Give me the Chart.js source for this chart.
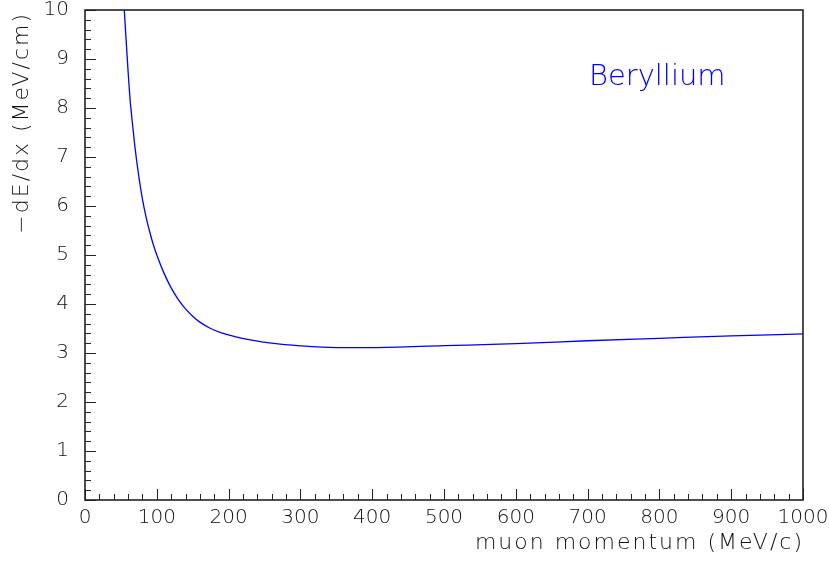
<!DOCTYPE html>
<html lang="en">
<head>
    <meta charset="UTF-8">
    <title>dE/dx Beryllium</title>
    <script src="https://cdn.jsdelivr.net/npm/chart.js"></script>
    <style>
        html, body { margin: 0; padding: 0; background: #fff; }
        .frame { width: 829px; height: 561px; position: relative; }
    </style>
</head>
<body>
    <div class="frame">
        <canvas id="dedxChart" width="829" height="561"></canvas>
    </div>
    <script>
        // values
        const momentum = [53, 55, 60, 63, 66, 70, 75, 80, 85, 90, 95, 100, 110, 120, 130, 140, 150, 160, 175, 190, 210, 230, 260, 300, 350, 400, 500, 600, 700, 800, 900, 1000];
        const dedx = [10.4, 9.93, 8.75, 8.14, 7.70, 7.15, 6.60, 6.14, 5.78, 5.48, 5.22, 5.0, 4.63, 4.33, 4.09, 3.90, 3.75, 3.63, 3.50, 3.41, 3.33, 3.27, 3.20, 3.145, 3.11, 3.11, 3.15, 3.19, 3.25, 3.30, 3.35, 3.39];
        const xTicks = [0, 100, 200, 300, 400, 500, 600, 700, 800, 900, 1000];
        const yTicks = [0, 1, 2, 3, 4, 5, 6, 7, 8, 9, 10];
        const xTitle = 'muon momentum (MeV/c)';
        const yTitle = '\u2212dE/dx (MeV/cm)';
        const material = 'Beryllium';

        const fontFamily = "'DejaVu Sans', sans-serif";

        // frame, inward major/minor ticks, axis titles and the label
        const framePlugin = {
            id: 'frame',
            afterDraw(chart) {
                const ctx = chart.ctx;
                const a = chart.chartArea;
                const xs = chart.scales.x, ys = chart.scales.y;
                ctx.save();
                ctx.strokeStyle = '#222';
                ctx.lineWidth = 1;
                ctx.beginPath();
                for (let v = 0; v <= 1000; v += 20) {
                    const px = Math.round(xs.getPixelForValue(v)) + 0.5;
                    const len = v % 100 === 0 ? 11 : 6;
                    ctx.moveTo(px, a.bottom);
                    ctx.lineTo(px, a.bottom - len);
                }
                for (let i = 0; i <= 50; i++) {
                    const py = Math.round(ys.getPixelForValue(i / 5)) + 0.5;
                    const len = i % 5 === 0 ? 11 : 6;
                    ctx.moveTo(a.left, py);
                    ctx.lineTo(a.left + len, py);
                }
                ctx.stroke();
                ctx.lineWidth = 1.6;
                ctx.strokeRect(a.left, a.top, a.right - a.left, a.bottom - a.top);

                // axis titles, wide spaced like the original
                ctx.fillStyle = '#111';
                ctx.font = "200 22px " + fontFamily;
                ctx.letterSpacing = '2px';
                ctx.textBaseline = 'middle';
                ctx.textAlign = 'right';
                ctx.fillText(xTitle, a.right + 1, 543);
                ctx.save();
                ctx.translate(22, a.top + 2);
                ctx.rotate(-Math.PI / 2);
                ctx.fillText(yTitle, 0, 0);
                ctx.restore();

                ctx.letterSpacing = '0px';
                ctx.fillStyle = '#0000ff';
                ctx.font = "200 29px " + fontFamily;
                ctx.textAlign = 'center';
                ctx.fillText(material, xs.getPixelForValue(797), ys.getPixelForValue(8.62));
                ctx.restore();
            }
        };

        const ctx = document.getElementById('dedxChart').getContext('2d');
        new Chart(ctx, {
            type: 'line',
            data: {
                datasets: [{
                    data: momentum.map((m, i) => ({ x: m, y: dedx[i] })),
                    borderColor: '#0000ff',
                    borderWidth: 1.3,
                    pointRadius: 0,
                    cubicInterpolationMode: 'monotone',
                    fill: false
                }]
            },
            options: {
                responsive: false,
                animation: false,
                layout: { padding: { top: 10, right: 26, left: 0, bottom: 0 } },
                plugins: {
                    legend: { display: false },
                    tooltip: { enabled: false }
                },
                scales: {
                    x: {
                        type: 'linear',
                        min: 0,
                        max: 1000,
                        afterBuildTicks: s => { s.ticks = xTicks.map(v => ({ value: v })); },
                        afterFit: s => { s.height = 61; s.paddingLeft = 0; s.paddingRight = 0; },
                        grid: { display: false, drawTicks: false },
                        border: { display: false },
                        ticks: {
                            color: '#111',
                            padding: 6,
                            maxRotation: 0,
                            callback: v => String(v),
                            font: { family: fontFamily, size: 20, weight: 200 }
                        }
                    },
                    y: {
                        type: 'linear',
                        min: 0,
                        max: 10,
                        afterBuildTicks: s => { s.ticks = yTicks.map(v => ({ value: v })); },
                        afterFit: s => { s.width = 85; s.paddingTop = 0; s.paddingBottom = 0; },
                        grid: { display: false, drawTicks: false },
                        border: { display: false },
                        ticks: {
                            color: '#111',
                            padding: 16,
                            callback: v => String(v),
                            font: { family: fontFamily, size: 20, weight: 200 }
                        }
                    }
                }
            },
            plugins: [framePlugin]
        });
    </script>
</body>
</html>
